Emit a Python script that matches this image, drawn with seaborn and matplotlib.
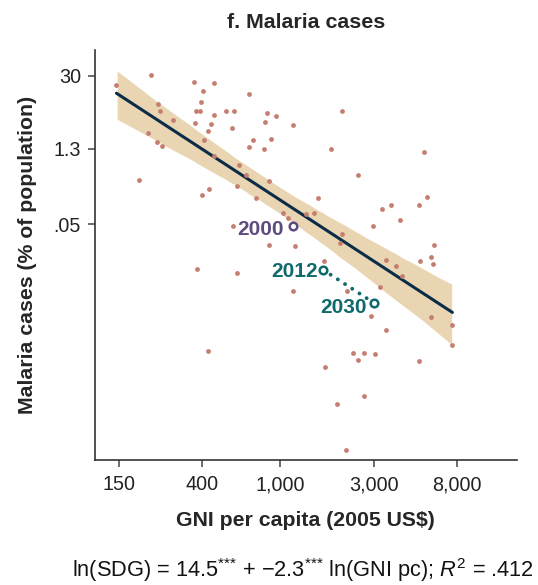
import numpy as np
import matplotlib.pyplot as plt
import seaborn as sns
from matplotlib.collections import PolyCollection

# values: GNI per capita (2005 US$) and malaria cases (% of population)
gni = [146, 220, 365, 461, 404, 691, 396, 237, 244, 372,
       388, 527, 583, 856, 948, 458, 285, 368, 442, 836,
       570, 428, 212, 234, 250, 407, 729, 894, 693, 830,
       461, 614, 667, 190, 600, 435, 399, 750, 880, 572,
       2060, 1166, 1823, 5436, 2502, 1554, 5591, 5106, 3688, 3319,
       1030, 1092, 1354, 1493, 4086, 2964, 2074, 877, 378, 600,
       427, 1190, 2012, 6092, 5901, 6041, 5185, 3453, 3897, 4169,
       1673, 1158, 2199, 3218, 2895, 5859, 3477, 7551, 7551, 2351,
       2667, 2494, 3056, 1699, 5106, 2667, 1949, 2174]
malaria = [20.1, 30.5, 23.2, 21.6, 15.3, 13.6, 9.54, 8.99, 6.65, 6.65,
           6.56, 6.48, 6.48, 6.10, 5.29, 5.53, 4.51, 3.92, 3.80, 4.09,
           3.12, 2.78, 2.55, 1.71, 1.47, 1.88, 1.88, 1.94, 1.38, 1.30,
           0.959, 0.642, 0.423, 0.333, 0.257, 0.232, 0.174, 0.153, 0.323, 0.0465,
           6.48, 3.64, 1.28, 1.12, 0.423, 0.157, 0.160, 0.113, 0.116, 0.0979,
           0.0814, 0.0665, 0.0770, 0.0814, 0.0602, 0.0459, 0.0334, 0.0205, 0.00722, 0.00608,
           0.000214, 0.0194, 0.0224, 0.0205, 0.0124, 0.00895, 0.0102, 0.0106, 0.00821, 0.00548,
           0.0103, 0.0028, 0.00284, 0.00333, 0.000967, 0.000926, 0.000529, 0.000648, 0.000278, 0.000194,
           0.000199, 0.000146, 0.000186, 0.000109, 0.000139, 0.0000313, 0.0000219, 0.00000302]

# highlighted country path
traj_years = ['2000', '2012', '2030']
traj_gni = [1158, 1660, 3002]
traj_malaria = [0.0465, 0.0070, 0.0017]

x_ticks = [150, 400, 1000, 3000, 8000]
x_tick_labels = ['150', '400', '1,000', '3,000', '8,000']
y_ticks = [30, 1.3, 0.05]
y_tick_labels = ['30', '1.3', '.05']

dot_color = '#c47f70'
band_color = '#e9d5b1'
line_color = '#0b2c49'
purple = '#5e4b7f'
teal = '#0f6a6c'

sns.set_style('ticks')
plt.rcParams['font.family'] = ['Liberation Sans', 'DejaVu Sans']
plt.rcParams['mathtext.fontset'] = 'custom'
plt.rcParams['mathtext.rm'] = 'Liberation Sans'
plt.rcParams['mathtext.it'] = 'Liberation Sans:italic'
plt.rcParams['mathtext.bf'] = 'Liberation Sans:bold'

fig = plt.figure(figsize=(5.38, 5.85), dpi=100)
ax = fig.add_axes([0.1766, 0.2137, 0.7838, 0.7009])

lx = np.log10(gni)
ly = np.log10(malaria)
sns.regplot(x=lx, y=ly, ax=ax, ci=95,
            scatter_kws=dict(s=12, color=dot_color, linewidths=0, alpha=1, zorder=3),
            line_kws=dict(color=line_color, lw=2.2, zorder=2))

# recolour the confidence band
for coll in ax.collections:
    if isinstance(coll, PolyCollection):
        coll.set_facecolor(band_color)
        coll.set_alpha(1)
        coll.set_zorder(1)

# 2000 -> 2012 -> 2030 path
tx = np.log10(traj_gni)
ty = np.log10(traj_malaria)
ax.plot(tx[1:], ty[1:], color=teal, lw=2.8, linestyle=(0, (0.01, 2.2)),
        dash_capstyle='round', zorder=4)
ring_colors = [purple, teal, teal]
offsets = [(-6.8, -6.8), (-3.8, -5.1), (-4.8, -7.6)]
for i, yr in enumerate(traj_years):
    ax.scatter(tx[i], ty[i], s=30, facecolors='white', edgecolors=ring_colors[i],
               linewidths=1.8, zorder=5)
    ax.annotate(yr, (tx[i], ty[i]), xytext=offsets[i], textcoords='offset points',
                ha='right', va='baseline', fontsize=15, fontweight='bold',
                color=ring_colors[i], zorder=6)

ax.set_xlim(np.log10([113.5, 16070]))
ax.set_ylim(np.log10([1.97e-6, 90.6]))
ax.set_xticks(np.log10(x_ticks))
ax.set_xticklabels(x_tick_labels)
ax.set_yticks(np.log10(y_ticks))
ax.set_yticklabels(y_tick_labels)
ax.tick_params(axis='both', length=5, width=1.1, color='#444444', labelsize=14.2,
               labelcolor='#222222')
ax.tick_params(axis='x', pad=6)
ax.tick_params(axis='y', pad=5)
for side in ['left', 'bottom']:
    ax.spines[side].set_linewidth(1.2)
    ax.spines[side].set_color('#333333')
sns.despine(ax=ax)

ax.set_title('f. Malaria cases', fontsize=15.4, fontweight='bold', pad=16)
ax.set_xlabel('GNI per capita (2005 US$)', fontsize=15.3, fontweight='bold', labelpad=12)
ax.set_ylabel('Malaria cases (% of population)', fontsize=15.3, fontweight='bold',
              labelpad=12)

fig.text(0.5623, 0.0132,
         'ln(SDG) = 14.5$^{{*}{*}{*}}$ + \u22122.3$^{{*}{*}{*}}$ ln(GNI pc); $R^2$ = .412',
         ha='center', va='baseline', fontsize=15.7, color='#111111')

fig.savefig('out.png', dpi=100)
